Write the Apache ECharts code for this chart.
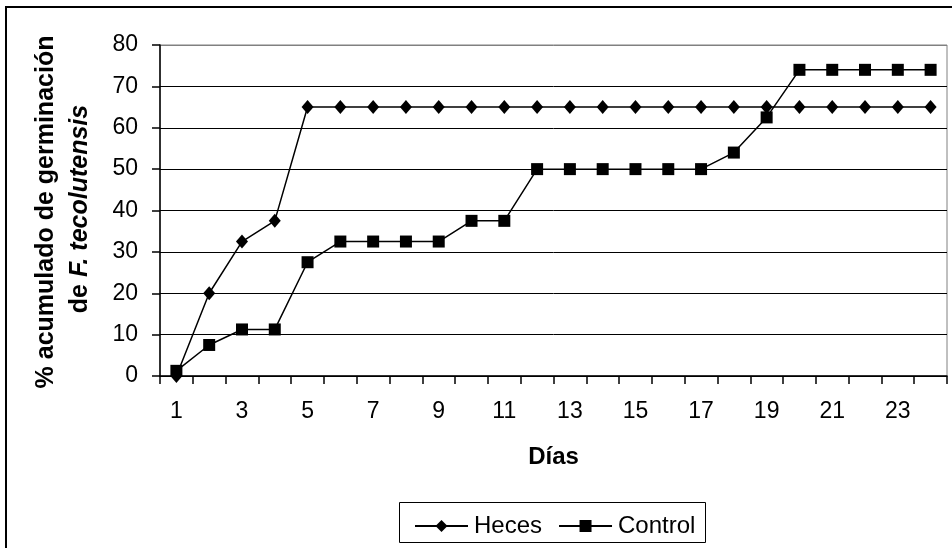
<!DOCTYPE html>
<html>
<head>
<meta charset="utf-8">
<script src="https://cdn.jsdelivr.net/npm/echarts@6/dist/echarts.min.js"></script>
<style>
  html, body { margin: 0; padding: 0; background: #fff; }
  #chart { width: 952px; height: 548px; }
</style>
</head>
<body>
<div id="chart"></div>
<script>
// Días de observación
const days = ['1','2','3','4','5','6','7','8','9','10','11','12','13','14','15','16','17','18','19','20','21','22','23','24'];

// % acumulado de germinación por tratamiento
const heces = [0, 20, 32.5, 37.5, 65, 65, 65, 65, 65, 65, 65, 65, 65, 65, 65, 65, 65, 65, 65, 65, 65, 65, 65, 65];
const control = [1.25, 7.5, 11.25, 11.25, 27.5, 32.5, 32.5, 32.5, 32.5, 37.5, 37.5, 50, 50, 50, 50, 50, 50, 54, 62.5, 74, 74, 74, 74, 74];

const FONT = '"Liberation Sans", Arial, sans-serif';

const chart = echarts.init(document.getElementById('chart'), null, { renderer: 'canvas' });

chart.setOption({
  animation: false,
  backgroundColor: '#fff',
  grid: {
    left: 160, right: 5, top: 45, height: 331,
    show: true, borderColor: '#808080', borderWidth: 1, backgroundColor: 'transparent'
  },
  xAxis: {
    type: 'category',
    data: days,
    boundaryGap: true,
    axisLine: { lineStyle: { color: '#000', width: 1.5 } },
    axisTick: { show: true, interval: 0, length: 8, lineStyle: { color: '#000', width: 1.5 } },
    axisLabel: { interval: 1, margin: 24, color: '#000', fontSize: 23, fontFamily: FONT },
    name: 'Días',
    nameLocation: 'middle',
    nameGap: 69,
    nameTextStyle: { color: '#000', fontSize: 24, fontWeight: 'bold', fontFamily: FONT }
  },
  yAxis: {
    type: 'value',
    min: 0, max: 80, interval: 10,
    axisLine: { show: true, lineStyle: { color: '#000', width: 1.5 } },
    axisTick: { show: true, length: 8, lineStyle: { color: '#000', width: 1.5 } },
    axisLabel: { margin: 22, color: '#000', fontSize: 23, fontFamily: FONT },
    splitLine: {
      show: true,
      lineStyle: { color: ['#000', '#000', '#000', '#000', '#000', '#000', '#000', '#000', '#808080'], width: 1 }
    }
  },
  legend: {
    left: 409, top: 509,
    itemWidth: 53, itemHeight: 15, itemGap: 16,
    textStyle: { color: '#000', fontSize: 24, fontFamily: FONT, padding: [0, 0, 0, 1] },
    data: ['Heces', 'Control']
  },
  graphic: [
    {
      type: 'rect', silent: true, z: -1,
      shape: { x: 6, y: 7, width: 990, height: 600 },
      style: { fill: 'none', stroke: '#000', lineWidth: 2 }
    },
    {
      type: 'rect', silent: true,
      shape: { x: 399.5, y: 502.5, width: 306, height: 40 },
      style: { fill: 'none', stroke: '#000', lineWidth: 1 }
    },
    {
      type: 'text', silent: true,
      x: 46, y: 212, rotation: Math.PI / 2,
      style: {
        text: '% acumulado de germinación',
        font: 'bold 25px ' + FONT,
        fill: '#000', align: 'center', verticalAlign: 'middle'
      }
    },
    {
      type: 'text', silent: true,
      x: 80, y: 209, rotation: Math.PI / 2,
      style: {
        text: '{b|de }{i|F. tecolutensis}',
        fill: '#000', align: 'center', verticalAlign: 'middle',
        rich: {
          b: { font: 'bold 25px ' + FONT, fill: '#000' },
          i: { font: 'italic bold 25px ' + FONT, fill: '#000' }
        }
      }
    }
  ],
  series: [
    {
      name: 'Heces',
      type: 'line',
      data: heces,
      symbol: 'diamond',
      symbolSize: [12, 14],
      itemStyle: { color: '#000' },
      lineStyle: { color: '#000', width: 1.5 },
      z: 2
    },
    {
      name: 'Control',
      type: 'line',
      data: control,
      symbol: 'rect',
      symbolSize: 12,
      itemStyle: { color: '#000' },
      lineStyle: { color: '#000', width: 1.5 },
      z: 3
    }
  ]
});
</script>
</body>
</html>
